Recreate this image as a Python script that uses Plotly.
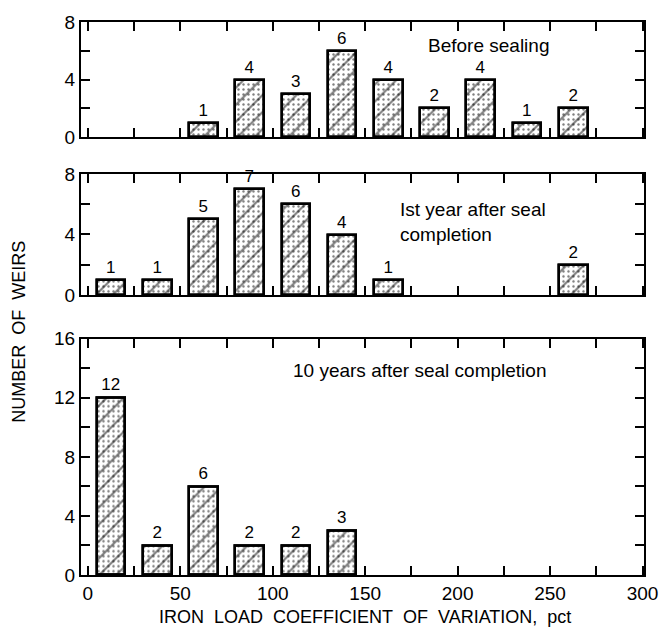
import plotly.graph_objects as go

# bin centers (iron load coefficient of variation, pct), 25-pct bins
bin_centers = [12.5, 37.5, 62.5, 87.5, 112.5, 137.5, 162.5, 187.5, 212.5, 237.5, 262.5, 287.5]
before_sealing = [0, 0, 1, 4, 3, 6, 4, 2, 4, 1, 2, 0]
first_year = [1, 1, 5, 7, 6, 4, 1, 0, 0, 0, 2, 0]
ten_years = [12, 2, 6, 2, 2, 3, 0, 0, 0, 0, 0, 0]

panel_titles = ["Before sealing", "Ist year after seal<br>completion", "10 years after seal completion"]
x_tickvals = [0, 25, 50, 75, 100, 125, 150, 175, 200, 225, 250, 275, 300]
x_ticktext = ["0", "", "50", "", "100", "", "150", "", "200", "", "250", "", "300"]
y_small_vals = [0, 2, 4, 6, 8]
y_small_text = ["0", "", "4", "", "8"]
y_big_vals = [0, 2, 4, 6, 8, 10, 12, 14, 16]
y_big_text = ["0", "", "4", "", "8", "", "12", "", "16"]

FONT = "Liberation Sans, Arial, sans-serif"

fig = go.Figure()

series = [before_sealing, first_year, ten_years]
axes = [("x", "y"), ("x2", "y2"), ("x3", "y3")]

for vals, (xa, ya) in zip(series, axes):
    yv = [v if v > 0 else None for v in vals]
    txt = [str(v) if v > 0 else "" for v in vals]
    fig.add_trace(go.Bar(
        x=bin_centers, y=yv, width=15.5, xaxis=xa, yaxis=ya,
        marker=dict(color="white", line=dict(color="black", width=2.5),
                    pattern=dict(shape=".", fgcolor="black", bgcolor="white", size=5, solidity=0.18)),
        showlegend=False, hoverinfo="skip"))
    fig.add_trace(go.Bar(
        x=bin_centers, y=yv, width=15.5, xaxis=xa, yaxis=ya,
        marker=dict(color="rgba(0,0,0,0)", line=dict(color="black", width=2.5),
                    pattern=dict(shape="/", fgcolor="black", bgcolor="rgba(0,0,0,0)", size=12, solidity=0.18)),
        text=txt, textposition="outside", cliponaxis=False,
        textfont=dict(family=FONT, size=17, color="black"),
        showlegend=False, hoverinfo="skip"))

domains = [[0.7917, 1.0], [0.5063, 0.7253], [0.0, 0.4273]]
common_x = dict(range=[-3.7, 300.8], tickmode="array", tickvals=x_tickvals,
                ticks="inside", ticklen=9, tickwidth=1.5, tickcolor="black",
                showline=True, linecolor="black", linewidth=2, mirror="ticks",
                showgrid=False, zeroline=False,
                tickfont=dict(family=FONT, size=19, color="black"))
common_y = dict(tickmode="array", ticks="inside", ticklen=9, tickwidth=1.5, tickcolor="black",
                showline=True, linecolor="black", linewidth=2, mirror="ticks",
                showgrid=False, zeroline=False,
                tickfont=dict(family=FONT, size=19, color="black"))

fig.update_layout(
    width=670, height=636,
    margin=dict(l=81, r=17, t=18, b=61),
    paper_bgcolor="white", plot_bgcolor="white",
    barmode="overlay",
    bargap=0,
    xaxis=dict(common_x, domain=[0, 1], anchor="y", ticktext=[""] * len(x_tickvals)),
    xaxis2=dict(common_x, domain=[0, 1], anchor="y2", ticktext=[""] * len(x_tickvals)),
    xaxis3=dict(common_x, domain=[0, 1], anchor="y3", ticktext=x_ticktext),
    yaxis=dict(common_y, domain=domains[0], anchor="x", range=[0, 8], tickvals=y_small_vals, ticktext=y_small_text),
    yaxis2=dict(common_y, domain=domains[1], anchor="x2", range=[0, 8], tickvals=y_small_vals, ticktext=y_small_text),
    yaxis3=dict(common_y, domain=domains[2], anchor="x3", range=[0, 16], tickvals=y_big_vals, ticktext=y_big_text),
)

fig.add_annotation(x=183, y=6.35, xref="x", yref="y", text=panel_titles[0], showarrow=False,
                   xanchor="left", yanchor="middle", font=dict(family=FONT, size=19, color="black"))
fig.add_annotation(x=168, y=4.8, xref="x2", yref="y2", text=panel_titles[1], showarrow=False,
                   xanchor="left", yanchor="middle", align="left", font=dict(family=FONT, size=19, color="black"))
fig.add_annotation(x=110, y=13.85, xref="x3", yref="y3", text=panel_titles[2], showarrow=False,
                   xanchor="left", yanchor="middle", font=dict(family=FONT, size=19, color="black"))

fig.add_annotation(x=-0.11, y=0.44, xref="paper", yref="paper",
                   text="NUMBER&nbsp; OF&nbsp; WEIRS", textangle=-90,
                   showarrow=False, xanchor="center", yanchor="middle",
                   font=dict(family=FONT, size=18, color="black"))
fig.add_annotation(x=0.505, y=-0.0754, xref="paper", yref="paper",
                   text="IRON&nbsp; LOAD&nbsp; COEFFICIENT&nbsp; OF&nbsp; VARIATION,&nbsp; pct", showarrow=False,
                   xanchor="center", yanchor="middle", font=dict(family=FONT, size=18, color="black"))

fig.write_html("out.html")
